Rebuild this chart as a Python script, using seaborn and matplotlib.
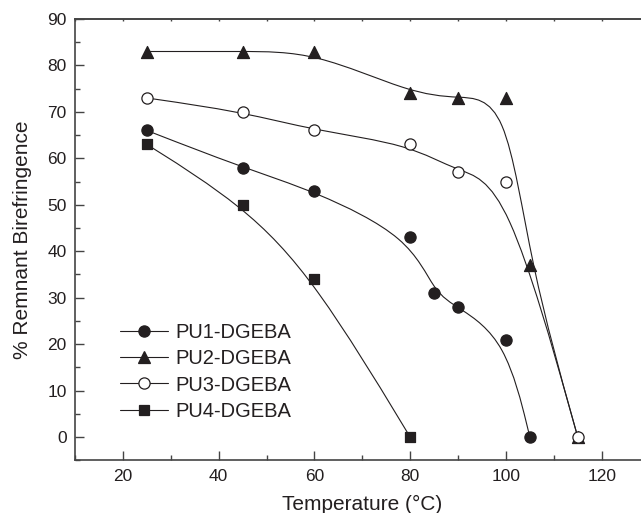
import numpy as np
import pandas as pd
import matplotlib
matplotlib.use("Agg")
import matplotlib.pyplot as plt
from matplotlib.path import Path
from matplotlib.patches import PathPatch
from matplotlib.lines import Line2D
from matplotlib.ticker import MultipleLocator
import seaborn as sns

# ---- data ----
series_names = ["PU1-DGEBA", "PU2-DGEBA", "PU3-DGEBA", "PU4-DGEBA"]
pu1_temp = [25, 45, 60, 80, 85, 90, 100, 105]
pu1_val = [66, 58, 53, 43, 31, 28, 21, 0]
pu2_temp = [25, 45, 60, 80, 90, 100, 105, 115]
pu2_val = [83, 83, 83, 74, 73, 73, 37, 0]
pu3_temp = [25, 45, 60, 80, 90, 100, 115]
pu3_val = [73, 70, 66, 63, 57, 55, 0]
pu4_temp = [25, 45, 60, 80]
pu4_val = [63, 50, 34, 0]

x_ticks = [20, 40, 60, 80, 100, 120]
y_ticks = [0, 10, 20, 30, 40, 50, 60, 70, 80, 90]

INK = "#231f20"
sns.set_style("ticks")
plt.rcParams["font.family"] = ["Liberation Sans", "DejaVu Sans"]

fig = plt.figure(figsize=(6.41, 5.13), dpi=100)
ax = fig.add_axes([0.1170, 0.1027, 0.8964, 0.8603])

def bspline_patch(xs, ys):
    """Cubic B-spline (Origin-style smoothing) drawn as a Bezier path,
    with the data points as the spline's control points."""
    p = np.column_stack([xs, ys]).astype(float)
    c = np.vstack([p[:1], p[:1], p, p[-1:], p[-1:]])  # clamp ends
    verts = [(c[0] + 4 * c[1] + c[2]) / 6]
    codes = [Path.MOVETO]
    for i in range(1, len(c) - 2):
        a, b, d = c[i], c[i + 1], c[i + 2]
        verts += [(2 * a + b) / 3, (a + 2 * b) / 3, (a + 4 * b + d) / 6]
        codes += [Path.CURVE4] * 3
    return PathPatch(Path(verts, codes), fill=False, edgecolor=INK, lw=0.8, zorder=2)

specs = [
    (pu1_temp, pu1_val, "o", INK, 65),
    (pu2_temp, pu2_val, "^", INK, 75),
    (pu3_temp, pu3_val, "o", "white", 65),
    (pu4_temp, pu4_val, "s", INK, 55),
]

for xs, ys, m, fc, s in specs:
    ax.add_patch(bspline_patch(xs, ys))

for (xs, ys, m, fc, s), name in zip(specs, series_names):
    df = pd.DataFrame({"Temperature": xs, "Value": ys})
    sns.scatterplot(data=df, x="Temperature", y="Value", marker=m, s=s,
                    color=fc, edgecolor=INK, linewidth=0.9, ax=ax, zorder=3)

ax.set_xlim(10, 130)
ax.set_ylim(-5, 90)
ax.set_xticks(x_ticks)
ax.set_yticks(y_ticks)
ax.xaxis.set_minor_locator(MultipleLocator(10))
ax.yaxis.set_minor_locator(MultipleLocator(5))
ax.tick_params(axis="both", which="major", direction="in", length=6.5, width=1.0,
               color="#444444", labelsize=12.5, labelcolor=INK, pad=6)
ax.tick_params(axis="both", which="minor", direction="in", length=3.5, width=1.0,
               color="#444444")
for side in ["left", "bottom", "top"]:
    ax.spines[side].set_linewidth(1.2)
    ax.spines[side].set_color("#444444")
ax.spines["right"].set_visible(False)

top = ax.secondary_xaxis("top")
top.set_xticks(x_ticks)
top.xaxis.set_minor_locator(MultipleLocator(10))
top.tick_params(which="both", direction="in", length=1.5, width=1.0, color="#444444",
                labeltop=False)
top.spines["top"].set_linewidth(1.2)
top.spines["top"].set_color("#444444")

ax.set_xlabel("Temperature (°C)", fontsize=15, color=INK, labelpad=8)
ax.set_ylabel("% Remnant Birefringence", fontsize=15, color=INK, labelpad=11)

handles = []
for (xs, ys, m, fc, s) in specs:
    handles.append(Line2D([], [], color=INK, lw=0.8, marker=m, markersize=np.sqrt(s),
                          markerfacecolor=fc, markeredgecolor=INK, markeredgewidth=0.9))
ax.legend(handles, series_names, loc="upper left", bbox_to_anchor=(0.078, 0.312),
          frameon=False, fontsize=14.5, handlelength=2.4, handletextpad=0.35,
          labelspacing=0.37, borderpad=0, borderaxespad=0, numpoints=1,
          labelcolor=INK)

fig.savefig("out.png", dpi=100)
